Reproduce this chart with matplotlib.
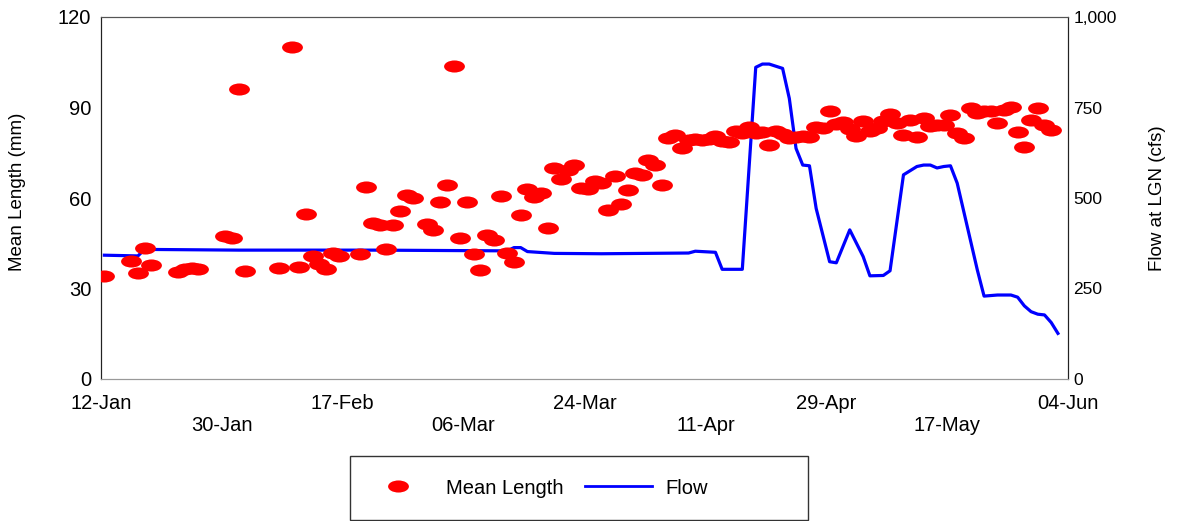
import numpy as np
import pandas as pd
import matplotlib
matplotlib.use("Agg")
import matplotlib.pyplot as plt
from matplotlib.path import Path
from matplotlib.lines import Line2D
from matplotlib.patches import Rectangle
from matplotlib.ticker import FuncFormatter

plt.rcParams['font.family'] = ['Liberation Sans', 'DejaVu Sans']

# days counted from 12-Jan
start = pd.Timestamp("2008-01-12")

len_day = [0, 4, 5, 6, 7, 11, 12, 13, 14, 18, 19, 20, 21, 26, 28, 29, 30, 31, 32, 33, 34, 35,
           38, 39, 40, 41, 42, 43, 44, 45, 46, 48, 49, 50, 51, 52, 53, 54, 55, 56, 57, 58, 59,
           60, 61, 62, 63, 64, 65, 66, 67, 68, 69, 70, 71, 72, 73, 74, 75, 76, 77, 78, 79, 80,
           81, 82, 83, 84, 85, 86, 87, 88, 89, 90, 91, 92] + list(range(93, 142))
len_mm = [34.0, 39.0, 35.2, 43.4, 37.7, 35.6, 36.5, 36.7, 36.4, 47.4, 46.7, 96.0, 35.8, 36.9,
          110.0, 37.0, 54.7, 40.7, 38.1, 36.5, 41.7, 40.9,
          41.3, 63.7, 51.8, 51.0, 43.2, 51.0, 55.6, 60.9, 59.9, 51.5, 49.4, 58.6, 64.3, 103.9,
          46.6, 58.8, 41.4, 36.1, 47.7, 46.2, 60.7, 41.9, 38.8, 54.3, 62.9, 60.4, 61.5, 50.2,
          69.9, 66.2, 69.3, 70.9, 63.4, 63.0, 65.6, 65.1, 56.0, 67.3, 58.1, 62.5, 68.4, 67.6,
          72.6, 70.9, 64.2, 80.0, 80.9, 76.5, 79.3, 79.4, 79.2, 79.6, 80.4, 79.0,
          78.7, 82.2, 81.4, 83.6, 81.6, 81.8, 77.6, 82.2, 81.1, 79.8, 80.1, 80.5, 80.3, 83.5,
          83.1, 88.8, 84.5, 85.2, 82.8, 80.7, 85.5, 82.2, 83.1, 85.6, 87.8, 85.0, 81.0, 85.8,
          80.3, 86.4, 83.9, 84.2, 84.2, 87.6, 81.6, 80.0, 90.0, 88.3, 88.7, 88.9, 85.0, 89.2,
          90.3, 81.9, 76.8, 85.8, 89.9, 84.1, 82.5]

flow_day = [0, 5, 6, 20, 40, 60, 61, 62, 63, 67, 74, 87, 88, 91, 92, 95, 97, 98, 99, 101,
            102, 103, 104, 105, 106, 108, 109, 111, 113, 114, 116, 117, 119, 121, 122, 123,
            124, 125, 126, 127, 130, 131, 133, 135, 136, 137, 138, 139, 140, 141, 142]
flow_cfs = [342, 340, 358, 356, 356, 354, 363, 363, 352, 347, 346, 348, 353, 350, 303, 303,
            861, 870, 870, 858, 775, 637, 591, 589, 471, 324, 321, 412, 338, 285, 286, 299,
            564, 587, 591, 591, 583, 587, 589, 541, 301, 229, 232, 232, 226, 202, 186, 179,
            177, 156, 126]

tick_days = list(range(0, 145, 18))


def to_date(days):
    # values sit in the middle of each day, as on the source chart
    return start + pd.to_timedelta(np.asarray(days, dtype=float) + 0.5, unit="D")


fig = plt.figure(figsize=(11.77, 5.21), dpi=100)
ax = fig.add_axes([101 / 1177, 1 - 379 / 521, 967 / 1177, 362 / 521])
ax2 = ax.twinx()

ellipse = Path.unit_circle().transformed(matplotlib.transforms.Affine2D().scale(1, 0.58))
ax.plot(to_date(len_day), len_mm, linestyle="none", marker=ellipse, markersize=15,
        color="#ff0000", markeredgewidth=0, zorder=3)
ax2.plot(to_date(flow_day), flow_cfs, color="#0000ff", linewidth=2.3, zorder=2)
ax.set_zorder(ax2.get_zorder() + 1)
ax.patch.set_visible(False)

ax.set_xlim(start, start + pd.Timedelta(days=144))
ax.set_ylim(0, 120)
ax.set_yticks([0, 30, 60, 90, 120])
ax2.set_ylim(0, 1000)
ax2.set_yticks([0, 250, 500, 750, 1000])
ax2.yaxis.set_major_formatter(FuncFormatter(lambda v, p: f"{int(v):,}"))

tick_dates = [start + pd.Timedelta(days=d) for d in tick_days]
labels = [t.strftime("%d-%b") if i % 2 == 0 else "\n" + t.strftime("%d-%b")
          for i, t in enumerate(tick_dates)]
ax.set_xticks(tick_dates)
ax.set_xticklabels(labels, fontsize=14.5, linespacing=1.15)

ax.tick_params(axis="x", length=0, pad=11)
ax.tick_params(axis="y", length=0, pad=7, labelsize=14.5)
ax2.tick_params(axis="y", length=0, pad=4, labelsize=12.5)

for a in (ax, ax2):
    a.spines["left"].set_color("#222222")
    a.spines["right"].set_color("#222222")
    a.spines["top"].set_color("#555555")
    a.spines["bottom"].set_color("#999999")

fig.text(18 / 1177, 1 - 192 / 521, "Mean Length (mm)", rotation=90, ha="center",
         va="center", fontsize=13.5)
fig.text(1157 / 1177, 1 - 198 / 521, "Flow at LGN (cfs)", rotation=90, ha="center",
         va="center", fontsize=13.5)

handles = [Line2D([], [], linestyle="none", marker=ellipse, markersize=15, color="#ff0000",
                  markeredgewidth=0),
           Line2D([], [], color="#0000ff", linewidth=2)]
fig.legend(handles, ["Mean Length", "Flow"], ncol=2, loc="center left",
           bbox_to_anchor=(355 / 1177, 1 - 488 / 521), frameon=False, borderpad=0,
           fontsize=14.5, handlelength=3.3, handletextpad=0.7, columnspacing=1.1)
fig.patches.append(Rectangle((350 / 1177, 1 / 521), 458 / 1177, 64 / 521,
                             transform=fig.transFigure, fill=False,
                             edgecolor="#333333", linewidth=1))

fig.savefig("out.png", dpi=100)
